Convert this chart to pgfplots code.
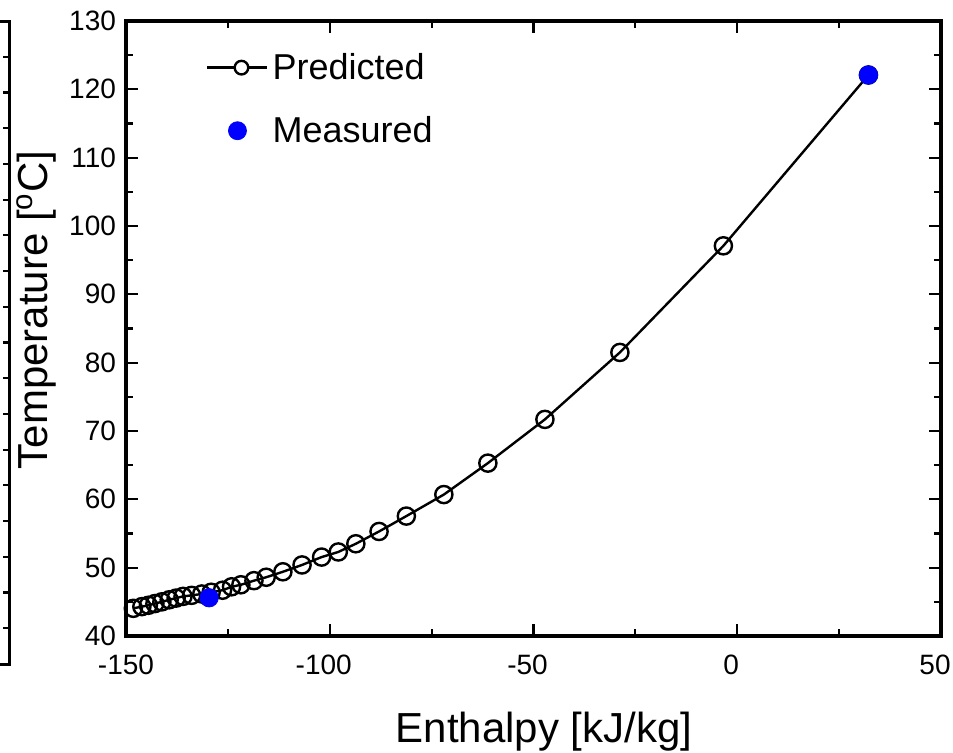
\documentclass[border=0pt]{standalone}
\usepackage{fontspec}
\setmainfont{Liberation Sans}
\usepackage{pgfplots}
\pgfplotsset{compat=1.18}

\begin{document}
\begin{tikzpicture}
% page = the reference crop (1 px = 0.5 pt)
\useasboundingbox (-63pt,-58pt) rectangle (413.5pt,318pt);

% edge of the neighbouring panel that the crop cuts through
\draw[line width=1.5pt] (-63pt,307.5pt) -- (-58pt,307.5pt) -- (-58pt,-14pt) -- (-63pt,-14pt);
\foreach \k in {1,...,17}
  \draw[line width=1.1pt] (-58pt,{307.5pt-\k*17.86pt}) -- ++(-3.5pt,0);

\begin{axis}[
  at={(0,0)}, anchor=south west,
  scale only axis, width=407.5pt, height=307.5pt,
  xmin=-150, xmax=50, ymin=40, ymax=130,
  xtick={-150,-100,-50,0,50},
  xticklabels={{\hspace*{6pt}-150},-100,-50,0,50},
  ytick={40,50,60,70,80,90,100,110,120,130},
  yticklabels={40,50,60,70,80,90,100,110,120,130},
  minor x tick num=1, minor y tick num=1,
  tick align=inside,
  major tick length=6pt, minor tick length=3.5pt,
  tick style={black, line width=1.1pt},
  axis line style={line width=1.6pt},
  tick label style={font=\fontsize{14}{16}\selectfont},
  xticklabel style={yshift=-6pt, xshift=-3pt},
  yticklabel style={xshift=-1.5pt},
  xlabel={Enthalpy [kJ/kg]},
  ylabel={Temperature [\textsuperscript{o}C]},
  label style={font=\fontsize{21}{25}\selectfont},
  xlabel style={at={(axis description cs:0.513,-0.173)}, anchor=base},
  ylabel style={at={(axis description cs:-0.0957,0.53)}, anchor=base},
  legend cell align=left,
  legend style={at={(axis description cs:0.098,0.955)}, anchor=north west,
    draw=none, fill=none, inner sep=0pt, row sep=13pt,
    font=\fontsize{18}{21}\selectfont},
]
\addplot[black, line width=1.2pt, mark=o, mark size=4.3pt,
  mark options={fill=white, line width=1.2pt},
  legend image code/.code={
    \draw[black, line width=1.2pt] (0pt,0pt) -- (30pt,0pt);
    \draw[black, line width=1.2pt, fill=white] (17pt,0pt) circle (3.4pt);}]
  coordinates {
  (-148.2,44.05) (-146.1,44.3) (-144.5,44.5) (-142.9,44.75) (-141.2,45.0)
  (-139.4,45.3) (-137.7,45.55) (-136.0,45.8) (-133.9,45.95) (-131.4,46.15)
  (-129.1,46.4) (-126.3,46.7) (-124.1,47.2) (-121.8,47.5) (-118.6,48.1)
  (-115.6,48.6) (-111.5,49.4) (-106.8,50.4) (-102.0,51.55) (-97.9,52.3)
  (-93.6,53.5) (-87.9,55.3) (-81.2,57.55) (-72.0,60.7) (-61.2,65.3)
  (-47.2,71.7) (-28.8,81.5) (-3.4,97.1) (32.2,122.1)};
\addlegendentry{Predicted}
\addplot[only marks, mark=*, mark size=4.6pt, blue,
  mark options={draw=none, fill=blue},
  legend image code/.code={\fill[blue] (15pt,0pt) circle (4.5pt);}]
  coordinates {(-129.6,45.6) (32.2,122.1)};
\addlegendentry{Measured}
\end{axis}
\end{tikzpicture}
\end{document}
